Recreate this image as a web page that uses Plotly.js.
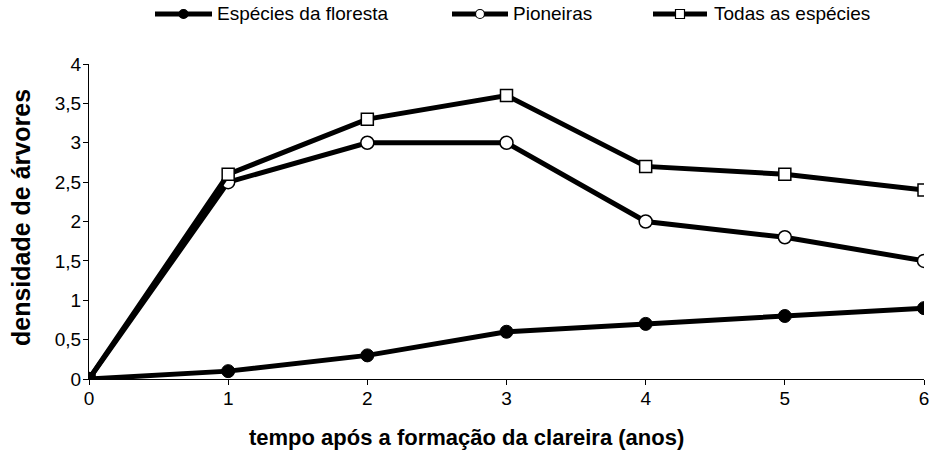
<!DOCTYPE html>
<html>
<head>
<meta charset="utf-8">
<script src="https://cdn.plot.ly/plotly-3.0.1.min.js"></script>
<style>html,body{margin:0;padding:0;background:#fff}#chart{width:930px;height:474px}</style>
</head>
<body>
<div id="chart"></div>
<script>
var anos = [0, 1, 2, 3, 4, 5, 6];
var floresta = [0, 0.1, 0.3, 0.6, 0.7, 0.8, 0.9];
var pioneiras = [0, 2.5, 3, 3, 2, 1.8, 1.5];
var todas = [0, 2.6, 3.3, 3.6, 2.7, 2.6, 2.4];
var nomes = ["Espécies da floresta", "Pioneiras", "Todas as espécies"];
var yTicks = [0, 0.5, 1, 1.5, 2, 2.5, 3, 3.5, 4];
var tituloX = "tempo após a formação da clareira (anos)";
var tituloY = "densidade de árvores";

var W = 930, H = 474, ML = 89, MR = 6, MT = 64, MB = 95;
var PW = W - ML - MR, PH = H - MT - MB;
function px(x) { return (x - ML) / PW; }
function py(y) { return (H - MB - y) / PH; }

var traces = [
  {x: anos, y: floresta, name: nomes[0], mode: "lines+markers", showlegend: false,
   line: {color: "#000", width: 5},
   marker: {symbol: "circle", size: 13, color: "#000", line: {color: "#000", width: 1}}},
  {x: anos, y: pioneiras, name: nomes[1], mode: "lines+markers", showlegend: false,
   line: {color: "#000", width: 5},
   marker: {symbol: "circle", size: 13, color: "#fff", line: {color: "#000", width: 1.5}}},
  {x: anos, y: todas, name: nomes[2], mode: "lines+markers", showlegend: false,
   line: {color: "#000", width: 5},
   marker: {symbol: "square", size: 12, color: ["#000", "#fff", "#fff", "#fff", "#fff", "#fff", "#fff"],
            line: {color: "#000", width: 1.5}}}
];

// manual legend (line + small marker + label)
var legItems = [
  {x0: 155, x1: 212, tx: 215, sym: "circle", fill: "#000"},
  {x0: 452, x1: 508, tx: 511, sym: "circle", fill: "#fff"},
  {x0: 653, x1: 707, tx: 712, sym: "square", fill: "#fff"}
];
var legY = 14;
var shapes = [], annotations = [];
legItems.forEach(function (it, i) {
  shapes.push({type: "line", xref: "paper", yref: "paper",
    x0: px(it.x0), x1: px(it.x1), y0: py(legY), y1: py(legY),
    line: {color: "#000", width: 5}});
  var cx = (it.x0 + it.x1) / 2, r = 4.5;
  shapes.push({type: it.sym === "circle" ? "circle" : "rect", xref: "paper", yref: "paper",
    x0: px(cx - r), x1: px(cx + r), y0: py(legY + r), y1: py(legY - r),
    fillcolor: it.fill, line: {color: "#000", width: 1.2}});
  annotations.push({xref: "paper", yref: "paper", x: px(it.tx), y: py(legY),
    xanchor: "left", yanchor: "middle", showarrow: false, text: nomes[i],
    font: {size: 19, color: "#000"}});
});
annotations.push({xref: "paper", yref: "paper", x: px(466), y: py(437),
  xanchor: "center", yanchor: "middle", showarrow: false,
  text: "<b>" + tituloX + "</b>", font: {size: 22, color: "#000"}});
annotations.push({xref: "paper", yref: "paper", x: px(21), y: py(218),
  xanchor: "center", yanchor: "middle", showarrow: false, textangle: -90,
  text: "<b>" + tituloY + "</b>", font: {size: 25, color: "#000"}});

var layout = {
  width: W, height: H,
  margin: {l: ML, r: MR, t: MT, b: MB},
  paper_bgcolor: "#fff", plot_bgcolor: "#fff",
  separators: ",.",
  font: {family: "Liberation Sans, Arial, sans-serif", size: 19, color: "#000"},
  showlegend: false,
  xaxis: {range: [0, 6], tickvals: anos, ticks: "outside", ticklen: 5, tickcolor: "#000",
          ticklabelstandoff: -3,
          showline: true, linecolor: "#000", linewidth: 1, showgrid: false, zeroline: false},
  yaxis: {range: [0, 4], tickvals: yTicks, ticks: "outside", ticklen: 5, tickcolor: "#000",
          ticklabelstandoff: -2,
          showline: true, linecolor: "#000", linewidth: 1, showgrid: false, zeroline: false},
  shapes: shapes,
  annotations: annotations
};
Plotly.newPlot("chart", traces, layout, {displayModeBar: false});
</script>
</body>
</html>
